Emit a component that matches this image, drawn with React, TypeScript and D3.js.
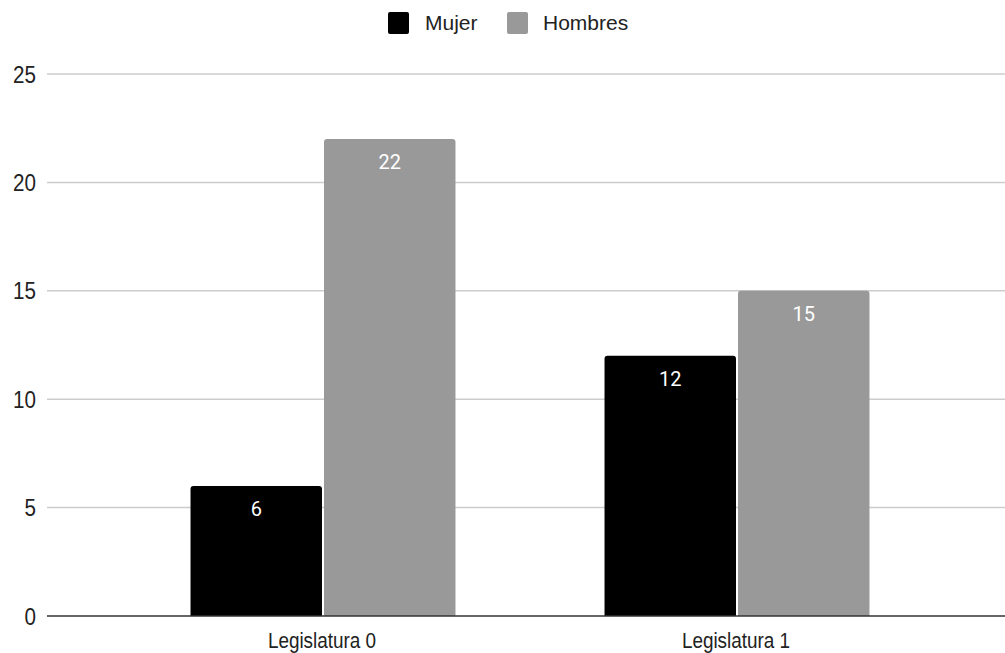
import React from "react";
import * as d3 from "d3";

const categories = ["Legislatura 0", "Legislatura 1"];
const seriesNames = ["Mujer", "Hombres"];
const mujerValues = [6, 12];
const hombresValues = [22, 15];
const yTicks = [0, 5, 10, 15, 20, 25];

const colors: Record<string, string> = { Mujer: "#000000", Hombres: "#999999" };

const W = 1005;
const H = 653;

function topRoundedRect(x: number, y: number, w: number, h: number, r: number) {
  const rr = Math.min(r, h / 2, w / 2);
  return `M${x},${y + h}V${y + rr}Q${x},${y} ${x + rr},${y}H${x + w - rr}Q${x + w},${y} ${x + w},${y + rr}V${y + h}Z`;
}

export default function App() {
  const y = d3.scaleLinear().domain([0, 25]).range([616, 74]);
  const x0 = d3.scaleBand<string>().domain(categories).range([116, 944]).paddingInner(0.36).paddingOuter(0.18);
  const x1 = d3.scaleBand<string>().domain(seriesNames).range([0, x0.bandwidth()]).paddingInner(0.015);

  const data = categories.map((c, i) => ({
    category: c,
    values: [
      { name: "Mujer", value: mujerValues[i] },
      { name: "Hombres", value: hombresValues[i] },
    ],
  }));

  const axisFont = "'Liberation Sans', Arial, sans-serif";
  const sx = 0.86;

  return (
    <svg width={W} height={H} style={{ position: "absolute", left: 0, top: 0, background: "#fff" }}>
      {/* legend */}
      <g fontFamily={axisFont} fontSize={21} fill="#222">
        <rect x={388} y={12} width={21} height={22} rx={2} fill={colors.Mujer} />
        <text x={425} y={30}>Mujer</text>
        <rect x={507} y={12} width={21} height={22} rx={2} fill={colors.Hombres} />
        <text x={543} y={30}>Hombres</text>
      </g>

      {/* gridlines */}
      {yTicks.filter((t) => t !== 0).map((t) => (
        <line key={t} x1={47} x2={1005} y1={y(t)} y2={y(t)} stroke="#cccccc" strokeWidth={1.5} />
      ))}

      {/* y labels */}
      <g fontFamily={axisFont} fontSize={24} fill="#222" textAnchor="end">
        {yTicks.map((t) => (
          <text key={t} transform={`translate(36,${y(t)}) scale(${sx},1)`} dy="0.36em">{t}</text>
        ))}
      </g>

      {/* bars */}
      {data.map((d) => (
        <g key={d.category} transform={`translate(${x0(d.category)},0)`}>
          {d.values.map((v) => {
            const bx = x1(v.name)!;
            const by = y(v.value);
            const bh = y(0) - by;
            return (
              <g key={v.name}>
                <path d={topRoundedRect(bx, by, x1.bandwidth(), bh, 3)} fill={colors[v.name]} />
                <text
                  x={bx + x1.bandwidth() / 2}
                  y={by + 30}
                  textAnchor="middle"
                  fontFamily="Roboto, sans-serif"
                  fontSize={20}
                  fill="#ffffff"
                >
                  {v.value}
                </text>
              </g>
            );
          })}
        </g>
      ))}

      {/* baseline */}
      <line x1={47} x2={1005} y1={y(0)} y2={y(0)} stroke="#333333" strokeWidth={1.5} />

      {/* x labels */}
      <g fontFamily={axisFont} fontSize={22} fill="#222" textAnchor="middle">
        {categories.map((c) => (
          <text key={c} transform={`translate(${x0(c)! + x0.bandwidth() / 2 - 1},648) scale(${sx},1)`}>{c}</text>
        ))}
      </g>
    </svg>
  );
}
